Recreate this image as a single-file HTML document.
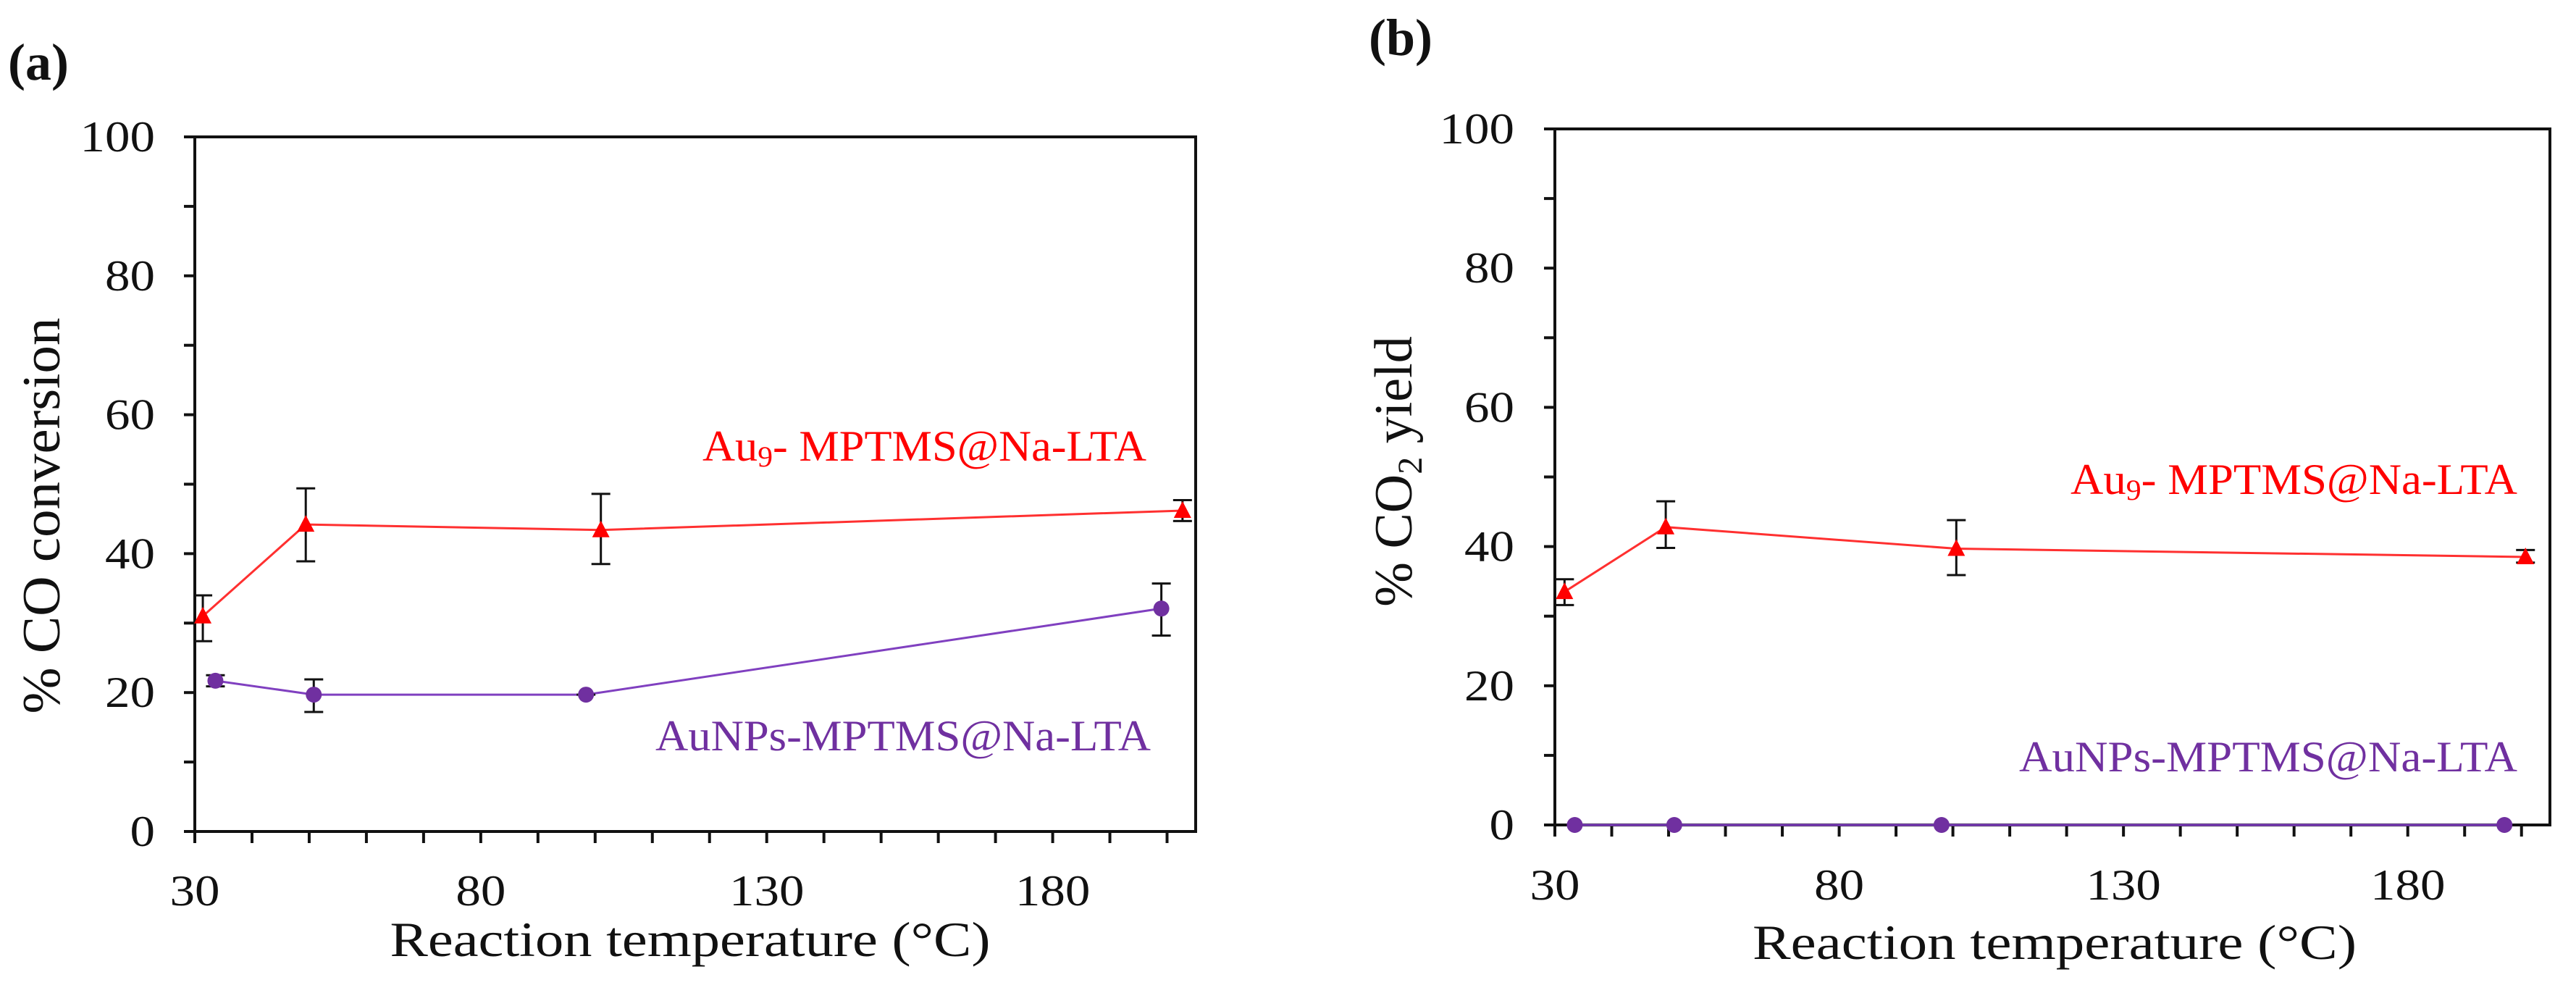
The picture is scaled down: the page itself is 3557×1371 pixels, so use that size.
<!DOCTYPE html>
<html><head><meta charset="utf-8"><style>
html,body{margin:0;padding:0;background:#fff}
svg{display:block}
text{font-family:"Liberation Serif",serif;fill:#111}
</style></head><body>
<svg id="fig" width="3557" height="1371" viewBox="0 0 3557 1371" xmlns="http://www.w3.org/2000/svg"></svg>
<script>
const xCats = [31.4, 49.4, 101, 202.7];
const xCatsP = [33.6, 50.8, 98.4, 199];
const convRed = [31, 44.2, 43.4, 46.2];
const convRedLo = [27.4, 38.9, 38.5, 44.7];
const convRedHi = [34, 49.4, 48.6, 47.7];
const convPur = [21.7, 19.7, 19.7, 32.1];
const convPurLo = [20.9, 17.2, 19.7, 28.2];
const convPurHi = [22.5, 21.9, 19.7, 35.7];
const xCatsB = [31.7, 49.5, 100.6, 200.7];
const xCatsBP = [33.5, 51, 98, 197];
const yieldRed = [33.5, 42.8, 39.7, 38.5];
const yieldRedLo = [31.6, 39.8, 35.9, 37.7];
const yieldRedHi = [35.3, 46.5, 43.8, 39.5];
const yieldPur = [0, 0, 0, 0];
const xTickLabels = [30, 80, 130, 180];
const yTickLabels = [0, 20, 40, 60, 80, 100];

const NS = "http://www.w3.org/2000/svg";
const svg = document.getElementById('fig');
function mk(tag, attrs, parent, txt) {
  const e = document.createElementNS(NS, tag);
  for (const k in attrs) e.setAttribute(k, attrs[k]);
  if (txt !== undefined) e.textContent = txt;
  (parent || svg).appendChild(e);
  return e;
}

const panels = [
  {name:'a', L:269, R:1651, T:189, B:1148, ytlX:214, label:'(a)', labX:11, labY:110,
   ytitle:'% CO conversion', ytX:57, ytY:712, ytLen:547,
   xtX:953, xtY:1320, xtLen:829, xtlY:1250,
   redLab:{x1:970, y:636, len:613}, purLab:{x1:905, y:1036, len:684},
   rx:xCats, r:convRed, rlo:convRedLo, rhi:convRedHi,
   px:xCatsP, p:convPur, plo:convPurLo, phi:convPurHi},
  {name:'b', L:2147, R:3521, T:178, B:1139, ytlX:2091, label:'(b)', labX:1890, labY:76,
   ytitle:'% CO', ytX:1924, ytY:651, ytLen:384,
   xtX:2837, xtY:1324, xtLen:834, xtlY:1242,
   redLab:{x1:2859, y:682, len:617}, purLab:{x1:2788, y:1065, len:688},
   rx:xCatsB, r:yieldRed, rlo:yieldRedLo, rhi:yieldRedHi,
   px:xCatsBP, p:yieldPur, plo:null, phi:null}
];

panels.forEach(P => {
  const g = mk('g', {});
  
  
  const xs = v => P.L + (v - 30) / 175 * (P.R - P.L);
  const ys = v => P.B - v / 100 * (P.B - P.T);

  const lab = mk('text', {x:P.labX, y:P.labY, 'font-size':72, 'font-weight':'bold'}, g, P.label);
  
  

  // ticks
  for (let v = 30; v <= 200; v += 10) {
    const t = mk('line', {x1:xs(v), x2:xs(v), y1:P.B, y2:P.B+16, stroke:'#111', 'stroke-width':4}, g);
    
    
  }
  for (let v = 0; v <= 100; v += 10) {
    const t = mk('line', {x1:P.L-15, x2:P.L, y1:ys(v), y2:ys(v), stroke:'#111', 'stroke-width':4}, g);
    
    
  }
  const frame = mk('rect', {x:P.L, y:P.T, width:P.R-P.L, height:P.B-P.T, fill:'none', stroke:'#111', 'stroke-width':4}, g);
  
  

  xTickLabels.forEach(v => {
    const t = mk('text', {transform:`translate(${xs(v)},${P.xtlY}) scale(1.15,1)`, 'font-size':60, 'text-anchor':'middle'}, g, v);
    
    
  });
  yTickLabels.forEach(v => {
    const t = mk('text', {transform:`translate(${P.ytlX},${ys(v)+20}) scale(1.15,1)`, 'font-size':60, 'text-anchor':'end'}, g, v);
    
    
  });

  const xt = mk('text', {x:P.xtX, y:P.xtY, 'font-size':68, 'text-anchor':'middle', textLength:P.xtLen, lengthAdjust:'spacingAndGlyphs'}, g, 'Reaction temperature (°C)');
  
  

  const yt = mk('text', {transform:`translate(${P.ytX+25},${P.ytY}) rotate(-90)`, 'font-size':74, 'text-anchor':'middle'}, g);
  
  
  if (P.name === 'a') {
    yt.setAttribute('textLength', P.ytLen);
    yt.setAttribute('lengthAdjust', 'spacingAndGlyphs');
    yt.textContent = P.ytitle;
  } else {
    mk('tspan', {}, yt, '% CO');
    mk('tspan', {'font-size':48, dy:14}, yt, '2');
    mk('tspan', {dy:-14}, yt, ' yield');
  }

  // series lines
  const rp = P.rx.map((x,i)=>xs(x)+','+ys(P.r[i])).join(' ');
  const rl = mk('polyline', {points:rp, fill:'none', stroke:'#ff3030', 'stroke-width':3}, g);
  
  
  const pp = P.px.map((x,i)=>xs(x)+','+ys(P.p[i])).join(' ');
  const pl = mk('polyline', {points:pp, fill:'none', stroke:'#8040c0', 'stroke-width':3}, g);
  
  

  function err(x, lo, hi) {
    const e = mk('path', {d:`M${x-13},${ys(hi)}H${x+13}M${x},${ys(hi)}V${ys(lo)}M${x-13},${ys(lo)}H${x+13}`, stroke:'#111', 'stroke-width':3, fill:'none'}, g);
    
    
  }
  P.rx.forEach((x,i) => {
    err(xs(x), P.rlo[i], P.rhi[i]);
    const cx = xs(x), cy = ys(P.r[i]);
    const m = mk('polygon', {points:`${cx-12},${cy+10} ${cx+12},${cy+10} ${cx},${cy-13}`, fill:'#ff0000'}, g);
    
    
  });
  P.px.forEach((x,i) => {
    if (P.plo) err(xs(x), P.plo[i], P.phi[i]);
    const m = mk('circle', {cx:xs(x), cy:ys(P.p[i]), r:11, fill:'#7030a0'}, g);
    
    
  });

  const r = mk('text', {x:P.redLab.x1, y:P.redLab.y, 'font-size':60, textLength:P.redLab.len, lengthAdjust:'spacingAndGlyphs', style:'fill:#ff0000'}, g);
  
  
  mk('tspan', {}, r, 'Au');
  mk('tspan', {'font-size':40, dy:8}, r, '9');
  mk('tspan', {dy:-8}, r, '- MPTMS@Na-LTA');
  const p = mk('text', {x:P.purLab.x1, y:P.purLab.y, 'font-size':60, textLength:P.purLab.len, lengthAdjust:'spacingAndGlyphs', style:'fill:#7030a0'}, g, 'AuNPs-MPTMS@Na-LTA');
  
  
});
</script>
</body></html>
